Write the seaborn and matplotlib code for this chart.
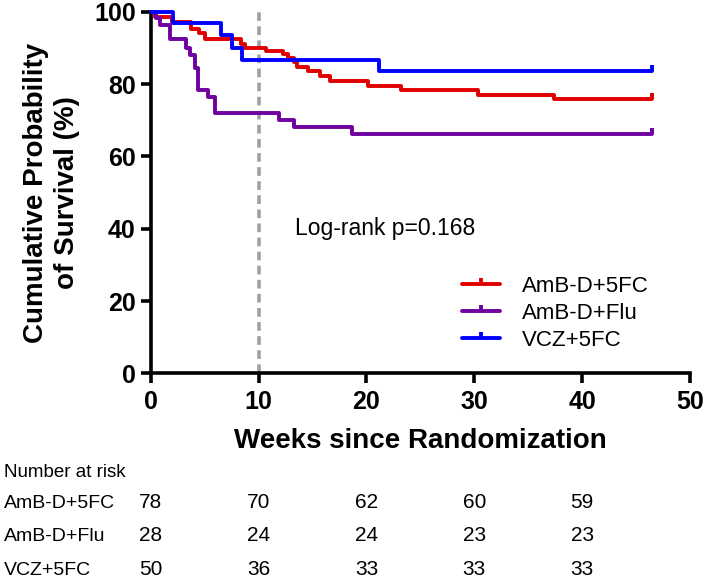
import matplotlib
matplotlib.use('Agg')
import matplotlib.pyplot as plt
from matplotlib.lines import Line2D
from matplotlib.transforms import blended_transform_factory
import seaborn as sns

# Kaplan-Meier step points (weeks, % surviving)
amb_5fc_weeks = [0, 0.4, 2.0, 3.7, 4.5, 5.0, 8.4, 8.7, 10.7, 12.3, 12.7, 13.3, 13.6,
                 14.6, 15.7, 16.6, 20.1, 23.2, 30.3, 37.4, 46.5]
amb_5fc_surv = [100, 98.7, 97.2, 95.2, 94.1, 92.6, 91.0, 90.0, 89.2, 88.3, 87.2, 86.2, 84.9,
                83.6, 82.2, 80.9, 79.6, 78.4, 77.0, 75.8, 75.8]

amb_flu_weeks = [0, 0.5, 0.9, 1.8, 3.3, 3.6, 4.1, 4.4, 5.3, 6.0, 11.9, 13.3, 18.7, 46.5]
amb_flu_surv = [100, 98.2, 96.4, 92.6, 89.9, 88.1, 84.4, 78.4, 76.5, 72.0, 70.1, 68.2, 66.2, 66.2]

vcz_5fc_weeks = [0, 2.1, 6.5, 7.5, 8.5, 21.2, 46.5]
vcz_5fc_surv = [100, 96.9, 93.6, 90.1, 86.7, 83.7, 83.7]

groups = ['AmB-D+5FC', 'AmB-D+Flu', 'VCZ+5FC']
colors = ['#e00000', '#7000a0', '#0000ff']

# number at risk table
risk_weeks = [0, 10, 20, 30, 40]
risk_amb_5fc = [78, 70, 62, 60, 59]
risk_amb_flu = [28, 24, 24, 23, 23]
risk_vcz_5fc = [50, 36, 33, 33, 33]

sns.set_style('ticks')
plt.rcParams['font.family'] = ['Liberation Sans', 'DejaVu Sans']
plt.rcParams.update({'text.color': 'black', 'axes.labelcolor': 'black',
                     'xtick.color': 'black', 'ytick.color': 'black',
                     'axes.edgecolor': 'black'})

fig = plt.figure(figsize=(7.08, 5.78), dpi=100)
ax = fig.add_axes([0.2129, 0.3542, 0.7617, 0.6251])

# censor tick: short vertical line pointing up
tick_marker = [(0, 0), (0, 1)]

ax.axvline(10, color='#a0a0a0', ls=(0, (2.4, 1.5)), lw=2.6, zorder=1)

series = [(amb_5fc_weeks, amb_5fc_surv), (amb_flu_weeks, amb_flu_surv),
          (vcz_5fc_weeks, vcz_5fc_surv)]
for (wk, sv), c in zip(series, colors):
    sns.lineplot(x=wk, y=sv, drawstyle='steps-post', color=c, lw=2.8,
                 legend=False, ax=ax, zorder=3)
    ax.plot(wk[-1], sv[-1], marker=tick_marker, ms=9, mew=2.8, color=c,
            zorder=3, clip_on=False)
for ln in ax.lines:
    ln.set_clip_on(False)

ax.set_xlim(0, 50)
ax.set_ylim(0, 100)
ax.set_xticks(range(0, 51, 10))
ax.set_yticks(range(0, 101, 20))
sns.despine(ax=ax)
for s in ['left', 'bottom']:
    ax.spines[s].set_linewidth(2.6)
ax.tick_params(axis='both', length=7.2, width=2.6, labelsize=18)
ax.tick_params(axis='x', pad=5)
ax.tick_params(axis='y', pad=3.5)
for lab in ax.get_xticklabels() + ax.get_yticklabels():
    lab.set_fontweight('bold')

ax.set_xlabel('Weeks since Randomization', fontsize=20, fontweight='bold')
ax.xaxis.set_label_coords(0.5, -0.152)
ax.set_ylabel('Cumulative Probability\nof Survival (%)', fontsize=20,
              fontweight='bold', linespacing=1.25)
ax.yaxis.set_label_coords(-0.131, 0.5)

ax.text(13.4, 38.3, 'Log-rank p=0.168', fontsize=16.5, va='baseline')

handles = [Line2D([], [], color=c, lw=2.8, marker=tick_marker, ms=9, mew=2.8)
           for c in colors]
ax.legend(handles, groups, loc='upper left', bbox_to_anchor=(0.577, 0.269),
          frameon=False, fontsize=16, borderpad=0, borderaxespad=0,
          handlelength=1.71, handletextpad=0.99, labelspacing=0.27)

# number at risk below the axis
trans = blended_transform_factory(ax.transData, fig.transFigure)
fig.text(0.006, 1 - 477 / 578, 'Number at risk', fontsize=13.5, va='baseline')
rows = [risk_amb_5fc, risk_amb_flu, risk_vcz_5fc]
row_base = [508, 541, 575]
for name, counts, yb in zip(groups, rows, row_base):
    fig.text(0.006, 1 - yb / 578, name, fontsize=14, va='baseline')
    for wk, n in zip(risk_weeks, counts):
        ax.text(wk, 1 - yb / 578, str(n), fontsize=15, ha='center',
                va='baseline', transform=trans, clip_on=False)

fig.savefig('out.png', dpi=100)
